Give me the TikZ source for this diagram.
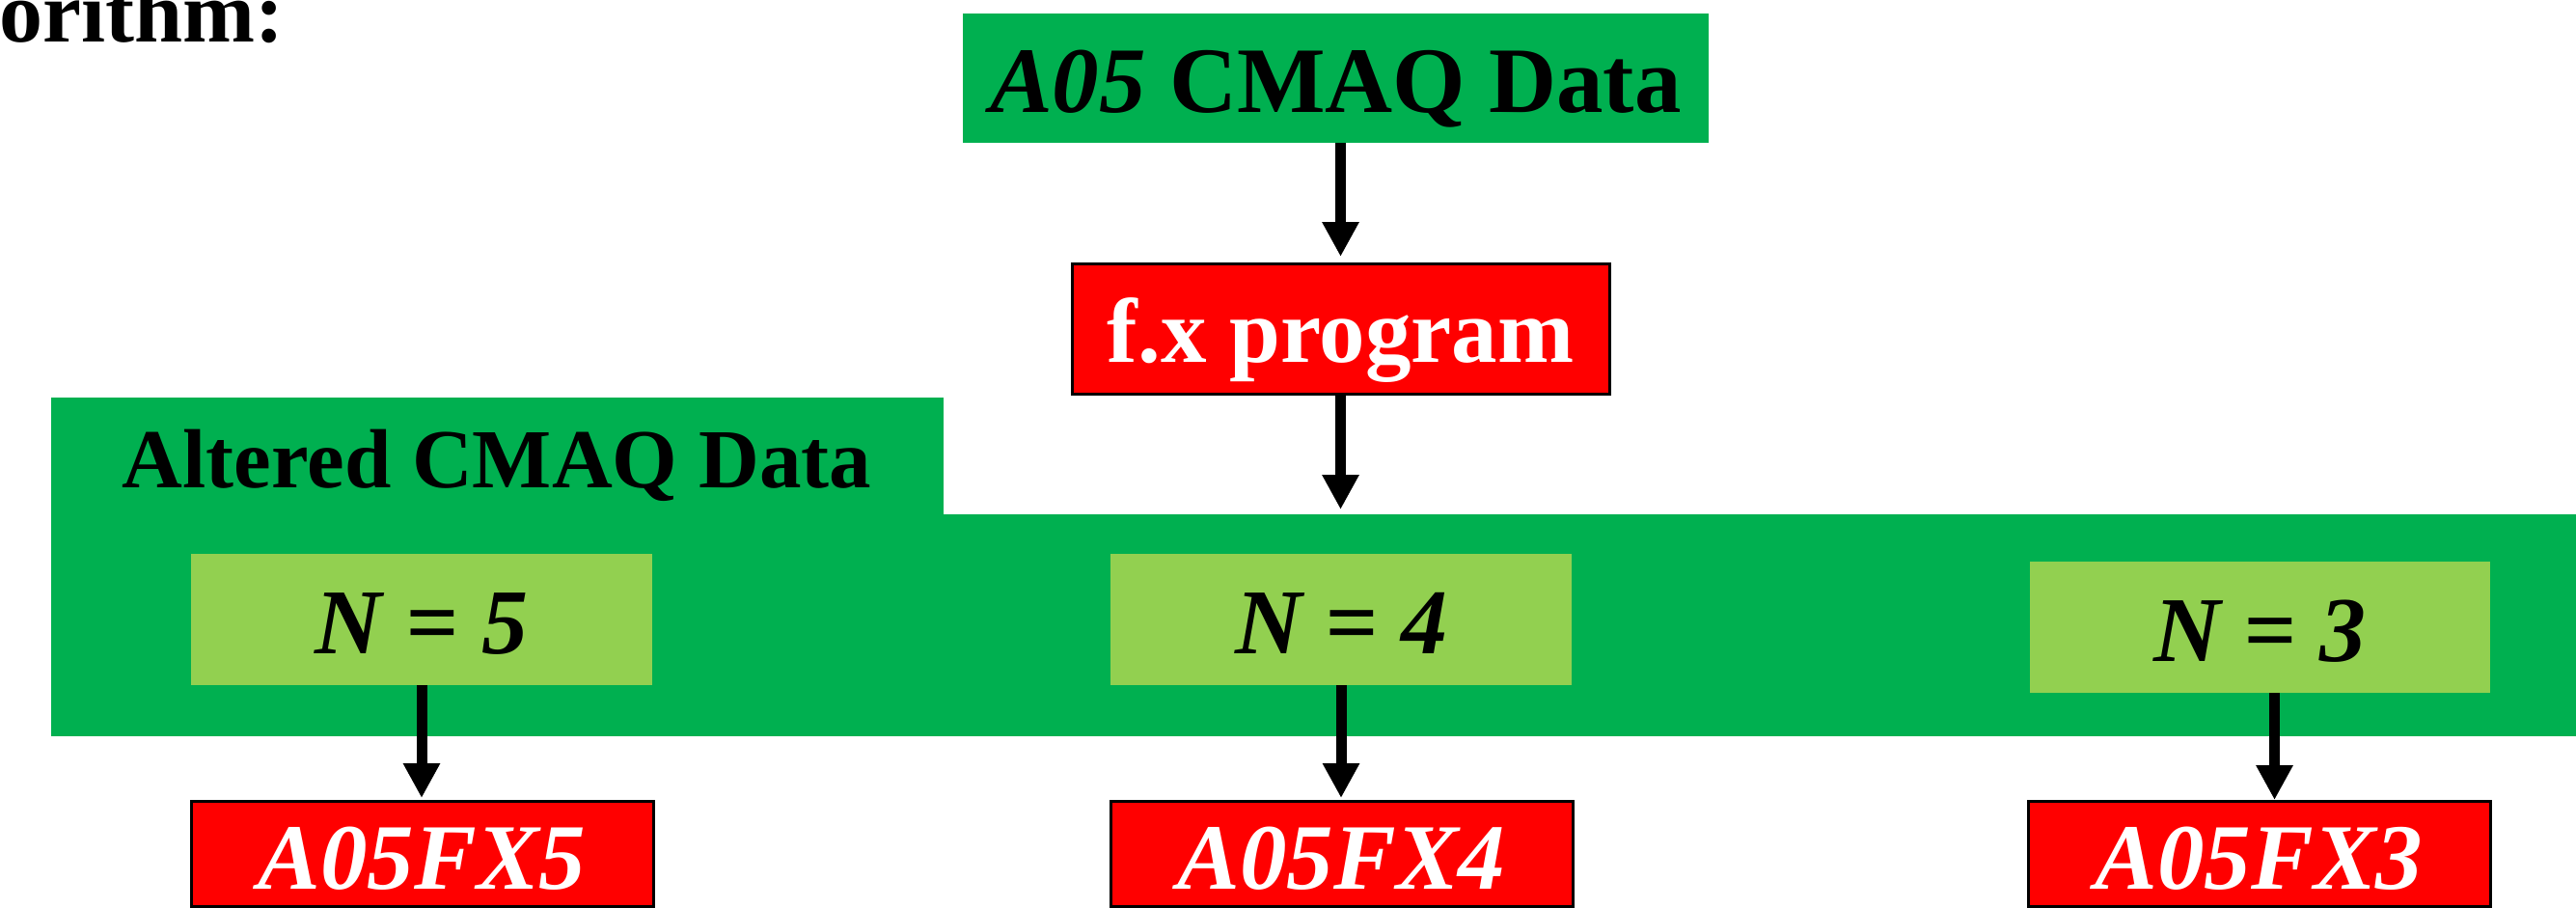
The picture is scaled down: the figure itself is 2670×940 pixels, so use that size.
\documentclass[tikz,border=0pt]{standalone}
\usepackage{fontspec}
\setmainfont{Liberation Serif}
\usetikzlibrary{arrows.meta}

\definecolor{bandgreen}{HTML}{00B050}
\definecolor{lightgreen}{HTML}{92D050}
\definecolor{boxred}{HTML}{FF0000}

\tikzset{
  basebox/.style={inner sep=0pt, outer sep=0pt, anchor=north west, align=center,
    font=\bfseries\fontsize{97}{100}\selectfont},
  greenbox/.style={basebox, fill=bandgreen, text=black},
  nbox/.style={basebox, fill=lightgreen, text=black, text height=103pt, text depth=33pt,
    minimum width=478pt, font=\bfseries\itshape\fontsize{96}{100}\selectfont},
  outbox/.style={basebox, fill=boxred, draw=black, line width=3pt, text=white,
    text height=91pt, text depth=18pt, minimum width=479pt,
    font=\bfseries\itshape\fontsize{97}{100}\selectfont},
  prog/.style={basebox, fill=boxred, draw=black, line width=3pt, text=white},
  arr/.style={line width=11pt, -{Triangle[width=36pt,length=36pt]}},
}

\begin{document}
\begin{tikzpicture}[x=1pt,y=-1pt]
  \useasboundingbox (0,0) rectangle (2670,940);
  \clip (0,0) rectangle (2670,940);

  % heading fragment at the top left
  \node[anchor=base east, inner sep=0pt, font=\bfseries\fontsize{90}{94}\selectfont]
    (heading) at (295,43.3) {orithm:};

  % input data
  \node[greenbox, minimum width=773pt, text height=102pt, text depth=32pt]
    (input) at (998,14) {\textit{A05} CMAQ Data};

  % processing step
  \node[prog, minimum width=557pt, text height=102pt, text depth=33pt,
        font=\bfseries\fontsize{95}{100}\selectfont]
    (fx) at (1111,273) {f.x program};

  % output container: wide band with a title tab
  \node[greenbox, minimum width=2700pt, minimum height=230pt] (band) at (52.5,533) {};
  \node[greenbox, minimum width=925pt, text height=93pt, text depth=30pt,
        font=\bfseries\fontsize{87}{90}\selectfont]
    (tab) at (52.5,412) {Altered CMAQ Data};

  % variants
  \node[nbox] (n5) at (198,574) {N = 5};
  \node[nbox] (n4) at (1151,574) {N = 4};
  \node[nbox, minimum width=477pt] (n3) at (2104,582) {N = 3};

  % resulting files
  \node[outbox] (r5) at (198,830) {A05FX5};
  \node[outbox] (r4) at (1151,830) {A05FX4};
  \node[outbox] (r3) at (2102,830) {A05FX3};

  % connectors
  \draw[arr, shorten >=7pt] (input.south -| fx.north) -- (fx.north);
  \draw[arr, shorten >=5pt] (fx.south) -- (fx.south |- band.north);
  \draw[arr, shorten >=3pt] (n5.south) -- (n5.south |- r5.north);
  \draw[arr, shorten >=3pt] (n4.south) -- (n4.south |- r4.north);
  \draw[arr, shorten >=1pt] ([xshift=15pt]n3.south) -- ([xshift=15pt]n3.south |- r3.north);
\end{tikzpicture}
\end{document}
